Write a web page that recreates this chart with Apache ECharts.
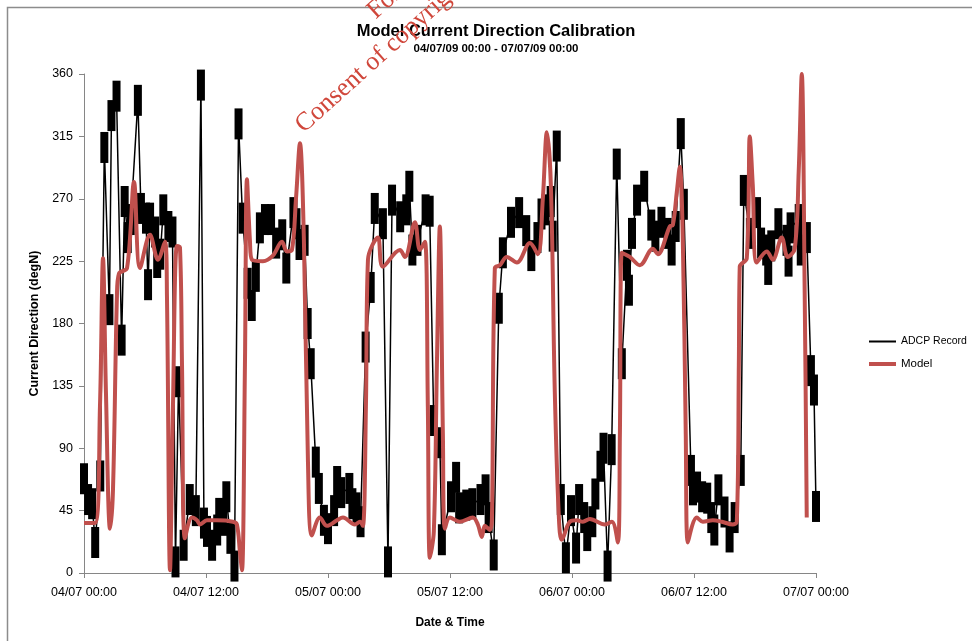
<!DOCTYPE html>
<html>
<head>
<meta charset="utf-8">
<title>Model Current Direction Calibration</title>
<script src="https://cdn.jsdelivr.net/npm/echarts@6/dist/echarts.min.js"></script>
<style>
  html, body { margin: 0; padding: 0; background: #fff; }
  #chart { width: 972px; height: 641px; }
</style>
</head>
<body>
<div id="chart"></div>
<script>
// Hours after 04/07/09 00:00 and current direction (degN), ADCP record
const adcpHours = [
  0.0, 0.4, 0.8, 1.1, 1.6, 2.0, 2.5, 2.7, 3.2, 3.7, 4.0, 4.3, 4.6, 5.3, 5.6, 6.1, 6.3, 6.5, 7.0, 7.2,
  7.5, 7.8, 8.3, 8.7, 9.0, 9.3, 9.8, 10.4, 11.0, 11.5, 11.8, 12.1, 12.6, 13.1, 13.3, 13.7, 14.0, 14.4, 14.8, 15.2,
  15.6, 16.1, 16.5, 16.9, 17.3, 17.8, 18.4, 18.9, 19.5, 19.9, 20.6, 20.9, 21.2, 21.7, 22.0, 22.3, 22.8, 23.1, 23.6, 24.0,
  24.6, 24.9, 25.3, 26.1, 26.4, 26.8, 27.2, 27.7, 28.2, 28.6, 29.4, 29.9, 30.3, 31.1, 31.7, 32.0, 32.3, 32.8, 33.6, 34.0,
  34.4, 35.0, 35.2, 36.1, 36.6, 36.9, 37.6, 38.2, 39.0, 39.5, 39.8, 40.3, 40.8, 41.2, 42.0, 42.8, 43.5, 44.0, 44.6, 45.0,
  45.4, 45.9, 46.1, 46.5, 46.9, 47.4, 47.9, 48.4, 48.7, 49.2, 49.5, 50.0, 50.3, 50.8, 51.1, 51.5, 51.9, 52.4, 52.9, 53.4,
  53.6, 53.9, 54.4, 55.1, 55.8, 56.2, 56.8, 57.4, 57.8, 58.2, 58.7, 59.0, 59.7, 59.9, 60.3, 60.8, 61.3, 61.7, 62.0, 62.4,
  63.0, 63.5, 64.0, 64.6, 64.9, 65.5, 66.2, 66.6, 67.1, 67.3, 67.6, 68.3, 69.1, 69.3, 69.5, 70.3, 70.5, 71.1, 71.5, 71.8,
  72.0
];
const adcpDeg = [
  68, 53, 50, 22, 70, 307, 190, 330, 344, 168, 268, 242, 255, 341, 263, 256, 208, 256, 246, 224,
  230, 262, 250, 246, 8, 138, 20, 53, 45, 352, 36, 30, 20, 31, 43, 38, 55, 25, 5, 324,
  256, 209, 193, 214, 249, 255, 255, 238, 244, 220, 260, 252, 237, 240, 180, 151, 80, 61, 38, 32,
  45, 66, 58, 61, 50, 47, 37, 163, 206, 263, 252, 8, 269, 257, 262, 279, 233, 240, 262, 261,
  110, 94, 24, 55, 69, 47, 49, 50, 53, 60, 40, 13, 191, 231, 253, 260, 247, 229, 242, 259,
  262, 268, 243, 308, 53, 11, 45, 18, 53, 40, 27, 37, 57, 77, 90, 5, 89, 295, 151, 222,
  204, 245, 269, 279, 251, 243, 253, 245, 233, 250, 317, 266, 74, 60, 62, 55, 54, 40, 31, 60,
  44, 26, 40, 74, 276, 245, 260, 238, 233, 219, 236, 252, 240, 225, 249, 255, 233, 242, 146, 132,
  48
];

// Hours after 04/07/09 00:00 and current direction (degN), model output
const modelHours = [
  0.0, 1.08, 1.57, 1.87, 2.16, 2.56, 2.85, 3.24, 3.44, 4.23, 4.92, 5.51, 6.49, 7.28, 7.96, 8.16, 8.46, 8.75, 9.14, 9.44,
  9.64, 9.93, 10.62, 11.11, 11.41, 12.09, 13.08, 14.65, 15.04, 15.34, 15.54, 15.83, 16.03, 16.32, 16.52, 17.6, 18.58, 19.47, 19.96, 20.45,
  20.85, 21.24, 21.63, 22.03, 22.42, 23.2, 23.89, 24.88, 25.47, 26.65, 27.14, 27.43, 27.73, 27.93, 28.91, 29.4, 31.07, 31.56, 32.55, 33.04,
  33.53, 33.82, 34.02, 34.41, 34.71, 35.0, 35.3, 35.5, 35.99, 36.97, 38.25, 38.74, 39.13, 39.43, 39.92, 40.12, 40.41, 40.9, 41.59, 42.58,
  43.86, 44.64, 45.13, 45.53, 45.92, 46.31, 46.71, 47.0, 47.79, 48.48, 49.07, 49.75, 51.23, 51.92, 52.51, 52.71, 52.9, 53.69, 54.67, 55.95,
  56.44, 57.62, 57.92, 58.31, 58.6, 58.9, 59.19, 59.39, 60.28, 60.87, 61.85, 62.73, 63.81, 64.21, 64.41, 64.5, 65.19, 65.49, 65.78, 66.18,
  67.16, 67.75, 68.63, 69.22, 69.91, 70.3, 70.6, 70.89, 71.09
];
const modelDeg = [
  36, 36, 120, 227, 130, 32, 60, 200, 216, 220, 282, 220, 244, 226, 239, 200, 2, 120, 236, 235,
  150, 25, 40, 38, 35, 38, 38, 37, 35, 15, 2, 150, 284, 240, 226, 225, 229, 239, 232, 233,
  270, 310, 240, 80, 27, 40, 34, 38, 40, 35, 37, 34, 120, 226, 242, 221, 233, 228, 253, 233,
  239, 120, 11, 30, 150, 250, 100, 32, 40, 37, 40, 35, 26, 34, 31, 38, 220, 222, 228, 224,
  238, 230, 270, 318, 280, 130, 40, 24, 37, 38, 37, 39, 35, 37, 22, 100, 231, 228, 222, 234,
  230, 250, 251, 275, 293, 240, 100, 22, 40, 37, 38, 37, 35, 37, 150, 221, 227, 315, 280, 224,
  232, 226, 242, 228, 234, 290, 360, 200, 40
];

// Axis ticks
const xTickLabels = ['04/07 00:00', '04/07 12:00', '05/07 00:00', '05/07 12:00', '06/07 00:00', '06/07 12:00', '07/07 00:00'];
const yTicks = [0, 45, 90, 135, 180, 225, 270, 315, 360];

const FONT = "'Liberation Sans', Arial, sans-serif";
const AXIS_GREY = '#868686';
const WATERMARK_FONT = "26px 'Liberation Serif', 'Times New Roman', serif";

const adcpData = adcpHours.map((h, i) => [h, adcpDeg[i]]);
const modelData = modelHours.map((h, i) => [h, modelDeg[i]]);

const chart = echarts.init(document.getElementById('chart'), null, { renderer: 'canvas' });

chart.setOption({
  animation: false,
  backgroundColor: '#ffffff',
  title: {
    text: 'Model Current Direction Calibration',
    subtext: '04/07/09 00:00 - 07/07/09 00:00',
    left: 491,
    top: 18,
    textAlign: 'center',
    itemGap: 3,
    textStyle: { fontFamily: FONT, fontSize: 16.5, fontWeight: 'bold', color: '#000' },
    subtextStyle: { fontFamily: FONT, fontSize: 11.5, fontWeight: 'bold', color: '#000' }
  },
  legend: [
    {
      data: ['ADCP Record'],
      left: 869, top: 336, padding: 0,
      icon: 'rect', itemWidth: 27, itemHeight: 2, itemGap: 0,
      itemStyle: { borderWidth: 0 },
      textStyle: { fontFamily: FONT, fontSize: 10.5, color: '#000' }
    },
    {
      data: ['Model'],
      left: 869, top: 358, padding: 0,
      icon: 'rect', itemWidth: 27, itemHeight: 4, itemGap: 0,
      itemStyle: { borderWidth: 0 },
      textStyle: { fontFamily: FONT, fontSize: 11.5, color: '#000' }
    }
  ],
  grid: { left: 84, top: 74, right: 156, bottom: 68, containLabel: false },
  xAxis: {
    type: 'value',
    min: 0, max: 72, interval: 12,
    name: 'Date & Time',
    nameLocation: 'middle',
    nameGap: 44,
    nameTextStyle: { fontFamily: FONT, fontSize: 12, fontWeight: 'bold', color: '#000' },
    axisLine: { show: true, lineStyle: { color: AXIS_GREY, width: 1 } },
    axisTick: { show: true, length: 5, lineStyle: { color: AXIS_GREY } },
    axisLabel: {
      margin: 13,
      fontFamily: FONT, fontSize: 12.5, color: '#000',
      formatter: v => xTickLabels[Math.round(v / 12)]
    },
    splitLine: { show: false }
  },
  yAxis: {
    type: 'value',
    min: yTicks[0], max: yTicks[yTicks.length - 1], interval: 45,
    name: 'Current Direction (degN)',
    nameLocation: 'middle',
    nameGap: 42,
    nameRotate: 90,
    nameTextStyle: { fontFamily: FONT, fontSize: 12.5, fontWeight: 'bold', color: '#000' },
    axisLine: { show: true, lineStyle: { color: AXIS_GREY, width: 1 } },
    axisTick: { show: true, length: 5, lineStyle: { color: AXIS_GREY } },
    axisLabel: { margin: 11, fontFamily: FONT, fontSize: 12.5, color: '#000' },
    splitLine: { show: false }
  },
  series: [
    {
      name: 'ADCP Record',
      type: 'line',
      data: adcpData,
      symbol: 'rect',
      symbolSize: [8, 31],
      showAllSymbol: true,
      lineStyle: { color: '#000', width: 1.5 },
      itemStyle: { color: '#000', borderWidth: 0 },
      emphasis: { disabled: true },
      z: 2
    },
    {
      name: 'Model',
      type: 'line',
      data: modelData,
      smooth: 0.35,
      showSymbol: false,
      symbol: 'none',
      lineStyle: { color: '#C0504D', width: 4 },
      itemStyle: { color: '#C0504D' },
      emphasis: { disabled: true },
      z: 3
    }
  ],
  graphic: [
    {
      // chart area frame
      type: 'rect',
      shape: { x: 7.5, y: 7.5, width: 1100, height: 800 },
      style: { fill: 'none', stroke: '#8c8c8c', lineWidth: 1.5 },
      silent: true,
      z: 0
    },
    {
      type: 'text',
      x: 380, y: 24,
      rotation: 0.733,
      silent: true,
      z: 10,
      style: {
        text: 'For inspection purposes only.',
        font: WATERMARK_FONT,
        fill: '#d0473b',
        textAlign: 'left',
        textVerticalAlign: 'bottom'
      }
    },
    {
      type: 'text',
      x: 308, y: 138,
      rotation: 0.733,
      silent: true,
      z: 10,
      style: {
        text: 'Consent of copyright owner required for any other use.',
        font: WATERMARK_FONT,
        fill: '#d0473b',
        textAlign: 'left',
        textVerticalAlign: 'bottom'
      }
    }
  ]
});
</script>
</body>
</html>
